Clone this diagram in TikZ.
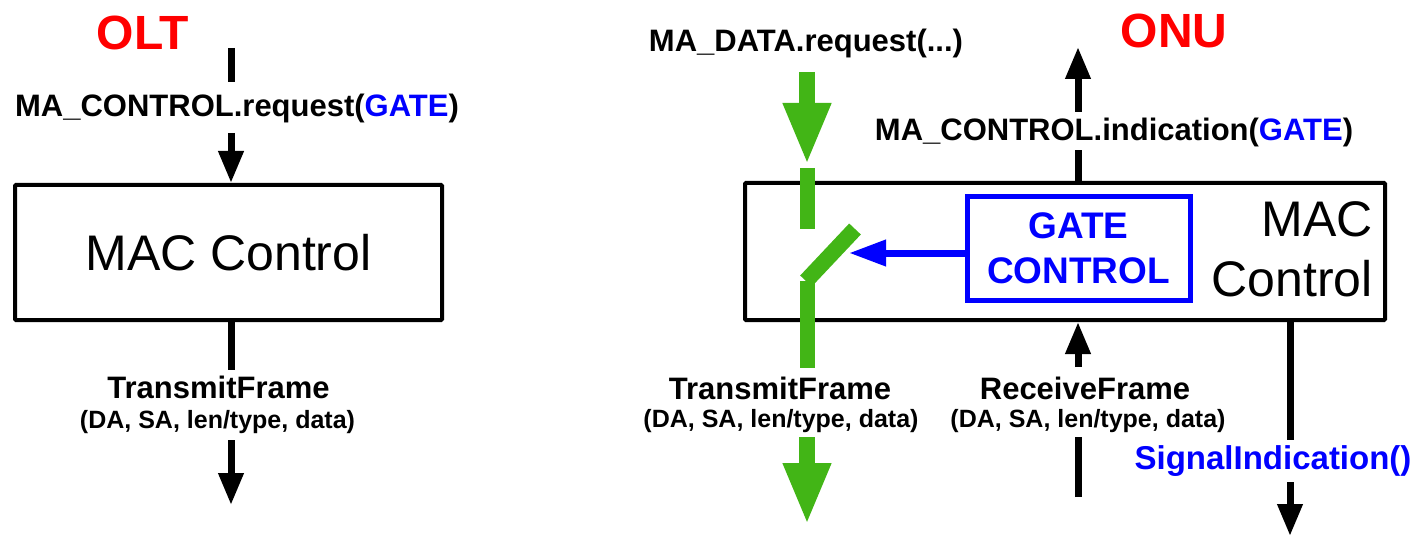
\documentclass[tikz,border=0pt]{standalone}
\usepackage{fontspec}
\setmainfont{Liberation Sans}
\usetikzlibrary{arrows.meta}
\definecolor{grn}{RGB}{66,181,22}
\definecolor{blu}{RGB}{0,0,255}
\definecolor{rd}{RGB}{255,0,0}
\newcommand{\fsz}[1]{\fontsize{#1}{#1}\selectfont}
\tikzset{
  blk/.style={line width=7pt, black},
  blkarr/.style={blk, -{Triangle[width=24pt,length=32pt]}},
  grnline/.style={line width=15pt, grn},
  grnarr/.style={line width=16pt, grn, -{Triangle[width=44pt,length=62pt]}},
  bluarr/.style={line width=7pt, blu, -{Triangle[width=25pt,length=37pt]}},
  box/.style={draw, line width=4pt, rounded corners=1pt},
  lbl/.style={font=\fsz{31}\bfseries, inner sep=0pt},
  par/.style={font=\fsz{25}\bfseries, inner sep=0pt},
  title/.style={font=\fsz{48}\bfseries, text=rd, inner sep=0pt},
}
\begin{document}
\begin{tikzpicture}[x=1pt, y=-1pt]
\useasboundingbox (0,0) rectangle (1420,537);
% ---------- OLT ----------
\node[title] (olttitle) at (143,33) {OLT};
\node[box, minimum width=427pt, minimum height=135pt, font=\fsz{50}] (olt) at (228.5,252.5) {MAC Control};
\node[lbl] (lreq) at (237,108) {MA\_CONTROL.request(\textcolor{blu}{GATE})};
\node[lbl] (ltx) at (218.5,387) {TransmitFrame};
\node[par] (ltxp) at (217.5,422) {(DA, SA, len/type, data)};
\coordinate (a1) at (231,48);
\coordinate (a2) at (231,82);
\coordinate (a3) at (231,133);
\coordinate (a4) at (231,370);
\coordinate (a5) at (231,440);
\coordinate (a6) at (231,505);
\draw[blk] (a1) -- (a2);
\draw[blkarr] (a3) -- (a3 |- olt.north);
\draw[blk] (olt.south -| a4) -- (a4);
\draw[blkarr] (a5) -- (a6);
% ---------- ONU ----------
\node[title] (onutitle) at (1174,31) {ONU};
\node[box, minimum width=640pt, minimum height=137pt] (onu) at (1065,251.5) {};
\node[font=\fsz{50}, align=right, inner sep=0pt, anchor=east] (mac) at (1373,249) {MAC\\[10pt]Control};
\node[draw=blu, line width=5pt, minimum width=223pt, minimum height=103pt, align=center,
      font=\fsz{37}\bfseries, text=blu, inner sep=0pt] (gc) at (1078.5,248.5) {GATE\\[8pt]CONTROL};
\node[lbl] (dreq) at (806,43) {MA\_DATA.request(...)};
\node[lbl] (cind) at (1114,132) {MA\_CONTROL.indication(\textcolor{blu}{GATE})};
\node[lbl] (rtx) at (780,388) {TransmitFrame};
\node[par] (rtxp) at (781,421) {(DA, SA, len/type, data)};
\node[lbl] (rrx) at (1085,388) {ReceiveFrame};
\node[par] (rrxp) at (1088,421) {(DA, SA, len/type, data)};
\node[font=\fsz{33}\bfseries, text=blu, inner sep=0pt] (sig) at (1273,461) {SignalIndication()};
% green data path with switch
\coordinate (g1) at (807,72);
\coordinate (g2) at (807,165);
\coordinate (g3) at (807,168);
\coordinate (g4) at (807,229);
\coordinate (g5) at (806,281);
\coordinate (g6) at (855,229);
\coordinate (g7) at (807,368);
\coordinate (g8) at (807,437);
\coordinate (g9) at (807,525);
\draw[grnarr] (g1) -- (g2);
\draw[grnline] (g3) -- (g4);
\draw[grnline, line width=16pt] (g5) -- (g6);
\draw[grnline] (g5 -| g7) -- (g7);
\draw[grnarr] (g8) -- (g9);
% gate control arrow
\coordinate (sw) at (849,253);
\draw[bluarr] (gc.west |- sw) -- (sw);
% indication arrow (up)
\coordinate (c1) at (1078,150);
\coordinate (c2) at (1078,112);
\coordinate (c3) at (1078,47);
\draw[blk] (onu.north -| c1) -- (c1);
\draw[blkarr] (c2) -- (c3);
% receive arrow (up)
\coordinate (r1) at (1078,497);
\coordinate (r2) at (1078,437);
\coordinate (r3) at (1078,367);
\draw[blk] (r1) -- (r2);
\draw[blkarr] (r3) -- (r3 |- onu.south);
% signal indication (down)
\coordinate (s1) at (1290,440);
\coordinate (s2) at (1290,482);
\coordinate (s3) at (1290,536);
\draw[blk] (onu.south -| s1) -- (s1);
\draw[blkarr] (s2) -- (s3);
\end{tikzpicture}
\end{document}
